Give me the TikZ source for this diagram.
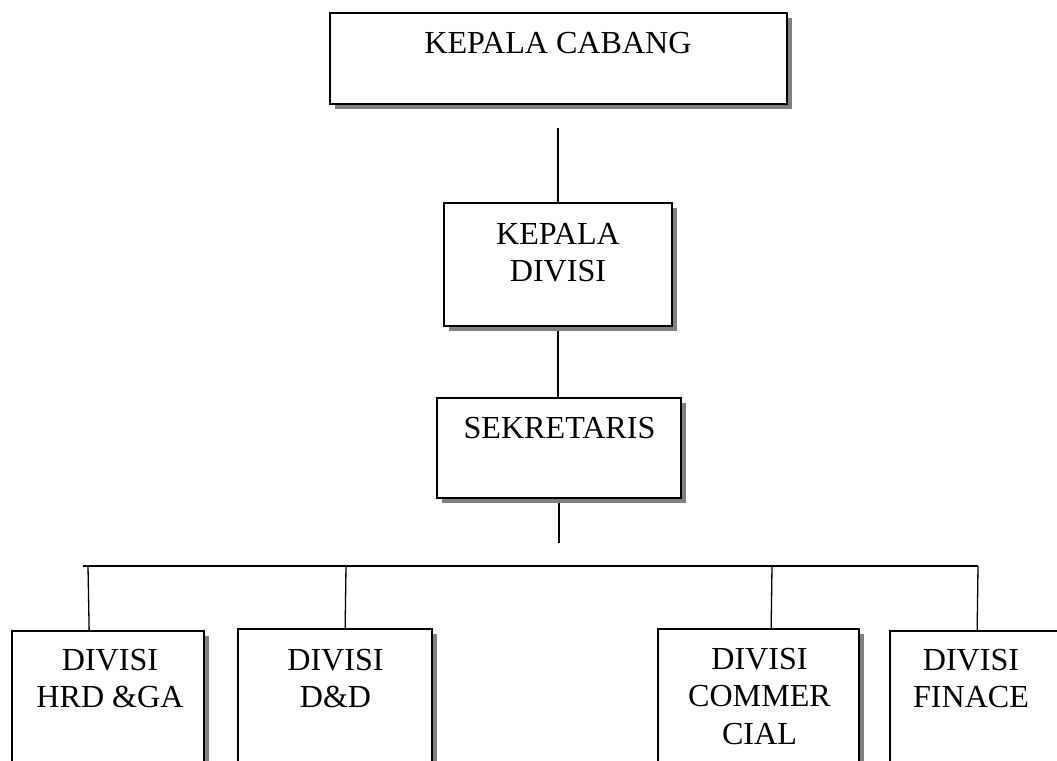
\documentclass[tikz,border=0pt]{standalone}
\usepackage{fontspec}
\setmainfont{Liberation Serif}
\usetikzlibrary{shadows,calc}
\pgfdeclarelayer{background}
\pgfsetlayers{background,main}
\begin{document}
\begin{tikzpicture}[x=1pt,y=-1pt,
  box/.style={draw=black,line width=1.7pt,fill=white,inner sep=0pt,rectangle,
    drop shadow={shadow xshift=5pt,shadow yshift=-5pt,fill=black!50,opacity=1}},
  lbl/.style={inner sep=0pt,align=center,anchor=north,
    font=\fontsize{32.1}{37.5}\selectfont},
  conn/.style={line width=1.3pt,draw=black}]
\useasboundingbox (0,0) rectangle (1057,760);
\clip (0,0) rectangle (1057,760);

% boxes
\node[box,minimum width=457pt,minimum height=91pt] (cabang) at (558.5,58.5) {};
\node[box,minimum width=228pt,minimum height=123pt] (divisi) at (558,264.5) {};
\node[box,minimum width=244pt,minimum height=100pt] (sek) at (559,448) {};
\node[box,minimum width=192pt,minimum height=169pt] (hrd) at (108,715.5) {};
\node[box,minimum width=194pt,minimum height=171pt] (dd) at (335,714.5) {};
\node[box,minimum width=201pt,minimum height=171pt] (com) at (758.5,714.5) {};
\node[box,minimum width=190pt,minimum height=169pt] (fin) at (985,715.5) {};

% texts
\node[lbl] (tcab) at (558,32) {KEPALA CABANG};
\node[lbl] (tdiv) at (558,223) {KEPALA\\DIVISI};
\node[lbl] (tsek) at (559.5,417) {SEKRETARIS};
\node[lbl] (thrd) at (110,649) {DIVISI\\HRD \&GA};
\node[lbl] (tdd) at (335.5,649) {DIVISI\\D\&D};
\node[lbl] (tcom) at (759.5,648) {DIVISI\\COMMER\\CIAL};
\node[lbl] (tfin) at (971,649) {DIVISI\\FINACE};

% connectors
\coordinate (t1) at (558,128);
\coordinate (t3) at (559,543);
\coordinate (hl) at (83,566);
\coordinate (hr) at (978,566);
\coordinate (d1) at (88,566);
\coordinate (d2) at (346,566);
\coordinate (d3) at (772,566);
\begin{pgfonlayer}{background}
  \draw[conn] (t1) -- (divisi.north);
  \draw[conn] (divisi.south) -- (divisi.south |- sek.north);
  \draw[conn] (sek.south) -- (t3);
  \draw[conn] (hl) -- (hr);
  \draw[conn] (d1) -- ($(hrd.north west)+(78,0)$);
  \draw[conn] (d2) -- ($(dd.north west)+(108,0)$);
  \draw[conn] (d3) -- ($(com.north west)+(114,0)$);
  \draw[conn] (hr) -- ($(fin.north west)+(88,0)$);
\end{pgfonlayer}
\end{tikzpicture}
\end{document}
